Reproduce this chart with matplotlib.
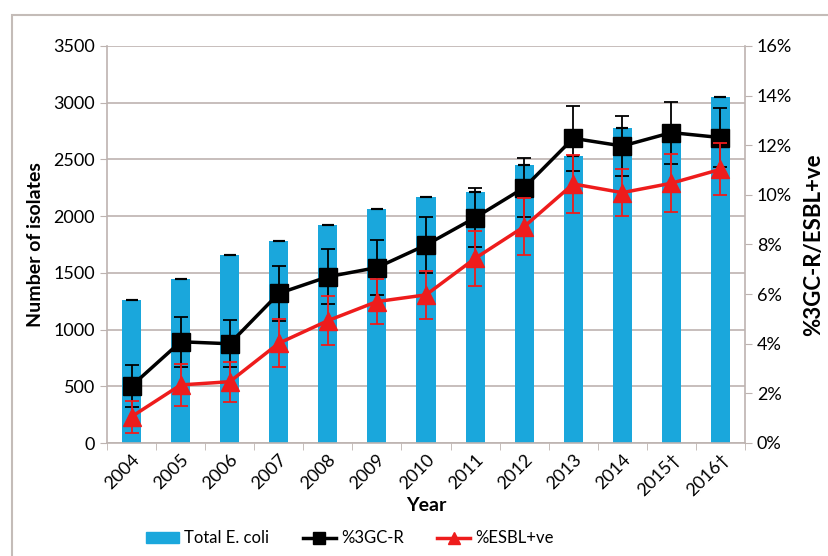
import numpy as np
import matplotlib.pyplot as plt
from matplotlib.patches import Rectangle
from matplotlib.lines import Line2D
from matplotlib.ticker import FuncFormatter, MultipleLocator

plt.rcParams['font.family'] = ['Lato', 'DejaVu Sans']

years = ["2004", "2005", "2006", "2007", "2008", "2009", "2010",
         "2011", "2012", "2013", "2014", "2015\u2020", "2016\u2020"]
total_ecoli = [1260, 1450, 1660, 1780, 1920, 2060, 2170,
               2210, 2450, 2530, 2775, 2780, 3050]
pct_3gcr = [2.3, 4.08, 4.0, 6.03, 6.7, 7.07, 7.98,
            9.08, 10.29, 12.28, 11.97, 12.51, 12.31]
err_3gcr = [0.85, 1.0, 0.95, 1.1, 1.1, 1.12, 1.13,
            1.2, 1.2, 1.3, 1.2, 1.25, 1.18]
pct_esbl = [1.06, 2.34, 2.47, 4.02, 4.93, 5.7, 5.97,
            7.44, 8.72, 10.44, 10.09, 10.47, 11.03]
err_esbl = [0.64, 0.84, 0.8, 0.97, 1.0, 0.92, 0.98,
            1.1, 1.15, 1.17, 0.94, 1.16, 1.05]

bar_col = '#1aa7dc'
grid_col = '#bdb3b0'
tick_fs = 13

fig = plt.figure(figsize=(8.29, 5.56), dpi=100)
fig.patches.append(Rectangle((12 / 829, -0.1), 1.2, 1 - 15 / 556 + 0.1,
                             transform=fig.transFigure, fill=False,
                             edgecolor='#c4bcb8', linewidth=1.5))

ax1 = fig.add_axes([107 / 829, 113 / 556, 638 / 829, 397 / 556])
x = np.arange(len(years))

ax1.bar(x, total_ecoli, width=0.39, color=bar_col, zorder=2)
ax1.errorbar(x, total_ecoli, yerr=0, fmt='none', ecolor='black',
             capsize=4, capthick=1.5, zorder=3)
ax1.set_ylim(0, 3500)
ax1.set_xlim(-0.5, len(years) - 0.5)
ax1.yaxis.set_major_locator(MultipleLocator(500))
ax1.grid(axis='y', color=grid_col, linewidth=1.2, zorder=0)
ax1.set_axisbelow(True)
ax1.set_xticks(x)
ax1.set_xticklabels(years, rotation=45, ha='right', rotation_mode='anchor',
                    fontsize=tick_fs)
ax1.set_xticks(np.arange(-0.5, len(years)), minor=True)
ax1.tick_params(axis='x', which='major', length=0, pad=6)
ax1.tick_params(axis='x', which='minor', length=5, color=grid_col)
ax1.tick_params(axis='y', length=5, color=grid_col, labelsize=tick_fs)
for s in ['top', 'right']:
    ax1.spines[s].set_visible(False)
ax1.spines['left'].set_color(grid_col)
ax1.spines['bottom'].set_color(grid_col)
ax1.spines['left'].set_linewidth(1.2)
ax1.spines['bottom'].set_linewidth(1.2)
ax1.set_ylabel('Number of isolates', fontsize=14, fontweight='bold', labelpad=7)
ax1.set_xlabel('Year', fontsize=14, fontweight='bold', labelpad=-2)

ax2 = ax1.twinx()
ax2.errorbar(x, pct_3gcr, yerr=err_3gcr, color='black', linewidth=2.5,
             marker='s', markersize=13, ecolor='black', elinewidth=1.3,
             capsize=5, capthick=1.3, zorder=3)
ax2.errorbar(x, pct_esbl, yerr=err_esbl, color='#ee1c1c', linewidth=2.5,
             marker='^', markersize=13, ecolor='#ee1c1c', elinewidth=1.3,
             capsize=5, capthick=1.3, zorder=4)
ax2.set_ylim(0, 16)
ax2.yaxis.set_major_locator(MultipleLocator(2))
ax2.yaxis.set_major_formatter(FuncFormatter(lambda v, p: f"{v:.0f}%"))
ax2.tick_params(axis='y', length=5, color=grid_col, labelsize=tick_fs)
for s in ['top', 'left', 'bottom']:
    ax2.spines[s].set_visible(False)
ax2.spines['right'].set_color(grid_col)
ax2.spines['right'].set_linewidth(1.2)
ax2.set_ylabel('%3GC-R/ESBL+ve', fontsize=16, fontweight='bold', labelpad=8)

handles = [Rectangle((0, 0), 1, 1, color=bar_col),
           Line2D([], [], color='black', linewidth=2.5, marker='s', markersize=9),
           Line2D([], [], color='#ee1c1c', linewidth=2.5, marker='^', markersize=9)]
fig.legend(handles, ['Total E. coli', '%3GC-R', '%ESBL+ve'], loc='center',
           bbox_to_anchor=(0.422, 0.032), ncol=3, frameon=False, fontsize=12,
           handlelength=2.0, handleheight=0.6, columnspacing=2.0,
           handletextpad=0.3)

fig.savefig('out.png', dpi=100)
